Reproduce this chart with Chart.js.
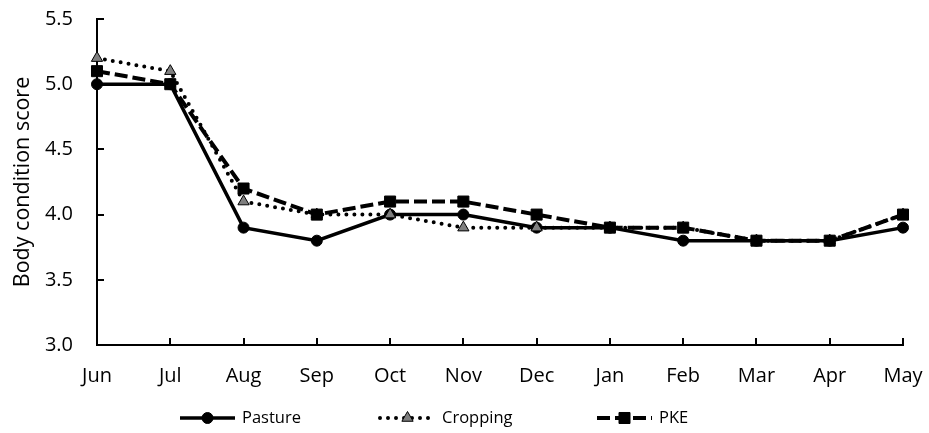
<!DOCTYPE html>
<html>
<head>
<meta charset="utf-8">
<script src="https://cdn.jsdelivr.net/npm/chart.js@4/dist/chart.umd.min.js"></script>
<style>
  html, body { margin: 0; padding: 0; background: #fff; }
  #wrap { width: 929px; height: 433px; position: relative; }
</style>
</head>
<body>
<div id="wrap"><canvas id="bcs"></canvas></div>
<script>
// Monthly body condition score by feeding system
const months = ['Jun', 'Jul', 'Aug', 'Sep', 'Oct', 'Nov', 'Dec', 'Jan', 'Feb', 'Mar', 'Apr', 'May'];
const pasture  = [5.0, 5.0, 3.9, 3.8, 4.0, 4.0, 3.9, 3.9, 3.8, 3.8, 3.8, 3.9];
const cropping = [5.2, 5.1, 4.1, 4.0, 4.0, 3.9, 3.9, 3.9, 3.9, 3.8, 3.8, 4.0];
const pke      = [5.1, 5.0, 4.2, 4.0, 4.1, 4.1, 4.0, 3.9, 3.9, 3.8, 3.8, 4.0];
const yTicks   = [3.0, 3.5, 4.0, 4.5, 5.0, 5.5];

const FONT = "'Open Sans', 'Noto Sans', sans-serif";
const INK = '#000';

// Small inward-pointing tick marks on both axes
const innerTicks = {
  id: 'innerTicks',
  beforeDatasetsDraw(chart, args, opts) {
    const { ctx, chartArea, scales } = chart;
    const xs = scales.x, ys = scales.y;
    ctx.save();
    ctx.strokeStyle = opts.color;
    ctx.lineWidth = opts.width;
    ctx.beginPath();
    xs.ticks.forEach((t, i) => {
      const px = Math.round(xs.getPixelForTick(i));
      ctx.moveTo(px, chartArea.bottom);
      ctx.lineTo(px, chartArea.bottom - opts.length);
    });
    ys.ticks.forEach((t, i) => {
      const py = Math.round(ys.getPixelForTick(i));
      ctx.moveTo(chartArea.left, py);
      ctx.lineTo(chartArea.left + opts.length, py);
    });
    ctx.stroke();
    ctx.restore();
  }
};

function drawMarker(ctx, ds, x, y) {
  ctx.save();
  ctx.setLineDash([]);
  ctx.fillStyle = ds.pointBackgroundColor;
  ctx.strokeStyle = ds.pointBorderColor;
  ctx.lineWidth = ds.pointBorderWidth;
  const opts = { pointStyle: ds.pointStyle, radius: ds.pointRadius, borderWidth: ds.pointBorderWidth, rotation: 0 };
  if (Chart.helpers && Chart.helpers.drawPoint) {
    Chart.helpers.drawPoint(ctx, opts, x, y);
  } else {
    const r = ds.pointRadius;
    ctx.beginPath();
    if (ds.pointStyle === 'rect') {
      const s = r * Math.SQRT1_2;
      ctx.rect(x - s, y - s, 2 * s, 2 * s);
    } else if (ds.pointStyle === 'triangle') {
      ctx.moveTo(x, y - r);
      ctx.lineTo(x + r * Math.sin(2 * Math.PI / 3), y - r * Math.cos(2 * Math.PI / 3));
      ctx.lineTo(x - r * Math.sin(2 * Math.PI / 3), y - r * Math.cos(2 * Math.PI / 3));
      ctx.closePath();
    } else {
      ctx.arc(x, y, r, 0, Math.PI * 2);
    }
    ctx.fill();
    if (ds.pointBorderWidth > 0) ctx.stroke();
  }
  ctx.restore();
}

// Legend row: line sample with marker, followed by the series name
const seriesLegend = {
  id: 'seriesLegend',
  afterDraw(chart, args, opts) {
    const ctx = chart.ctx;
    chart.data.datasets.forEach((ds, i) => {
      const x0 = opts.starts[i];
      const y = opts.y;
      const w = opts.sampleWidth;
      ctx.save();
      ctx.strokeStyle = ds.borderColor;
      ctx.lineWidth = ds.borderWidth;
      ctx.setLineDash(ds.borderDash || []);
      ctx.lineCap = ds.borderCapStyle || 'butt';
      ctx.beginPath();
      ctx.moveTo(x0, y);
      ctx.lineTo(x0 + w, y);
      ctx.stroke();
      ctx.restore();
      drawMarker(ctx, ds, x0 + w / 2, y);
      ctx.save();
      ctx.font = opts.font;
      ctx.fillStyle = opts.color;
      ctx.textBaseline = 'middle';
      ctx.textAlign = 'left';
      ctx.fillText(ds.label, x0 + w + opts.gap, y);
      ctx.restore();
    });
  }
};

new Chart(document.getElementById('bcs'), {
  type: 'line',
  data: {
    labels: months,
    datasets: [
      {
        label: 'Pasture',
        data: pasture,
        order: 3,
        borderColor: '#000',
        borderWidth: 3.5,
        pointStyle: 'circle',
        pointRadius: 5.5,
        pointBackgroundColor: '#000',
        pointBorderColor: '#000',
        pointBorderWidth: 1
      },
      {
        label: 'Cropping',
        data: cropping,
        order: 2,
        borderColor: '#000',
        borderWidth: 4,
        borderDash: [0, 8],
        borderCapStyle: 'round',
        pointStyle: 'triangle',
        pointRadius: 6.5,
        pointBackgroundColor: '#7f7f7f',
        pointBorderColor: '#000',
        pointBorderWidth: 1
      },
      {
        label: 'PKE',
        data: pke,
        order: 1,
        borderColor: '#000',
        borderWidth: 4,
        borderDash: [13, 5],
        pointStyle: 'rect',
        pointRadius: 7.8,
        pointBackgroundColor: '#000',
        pointBorderColor: '#000',
        pointBorderWidth: 1
      }
    ]
  },
  options: {
    responsive: true,
    maintainAspectRatio: false,
    devicePixelRatio: 1,
    animation: false,
    layout: { padding: { top: 19, right: 26, bottom: 38, left: 0 } },
    elements: { line: { tension: 0, fill: false } },
    datasets: { line: { clip: false } },
    plugins: {
      legend: { display: false },
      tooltip: { enabled: false },
      innerTicks: { color: '#000', width: 2, length: 7 },
      seriesLegend: {
        starts: [180, 380, 597],
        y: 418,
        sampleWidth: 55,
        gap: 7,
        font: "16.5px " + FONT,
        color: INK
      }
    },
    scales: {
      x: {
        offset: false,
        grid: { display: false, drawTicks: false },
        border: { display: true, color: '#000', width: 2 },
        ticks: { padding: 19, color: INK, font: { family: FONT, size: 20 }, maxRotation: 0, autoSkip: false },
        afterFit: s => { s.height = 50; s.paddingLeft = 0; s.paddingRight = 0; }
      },
      y: {
        min: 3,
        max: 5.5,
        afterBuildTicks: s => { s.ticks = yTicks.map(v => ({ value: v })); },
        afterFit: s => { s.width = 97; s.paddingTop = 0; s.paddingBottom = 0; },
        grid: { display: false, drawTicks: false },
        border: { display: true, color: '#000', width: 2 },
        ticks: { padding: 24, color: INK, font: { family: FONT, size: 20 }, callback: v => Number(v).toFixed(1) },
        title: {
          display: true,
          text: 'Body condition score',
          color: INK,
          font: { family: FONT, size: 21.5 },
          padding: { top: 10, bottom: 0 }
        }
      }
    }
  },
  plugins: [innerTicks, seriesLegend]
});
</script>
</body>
</html>
